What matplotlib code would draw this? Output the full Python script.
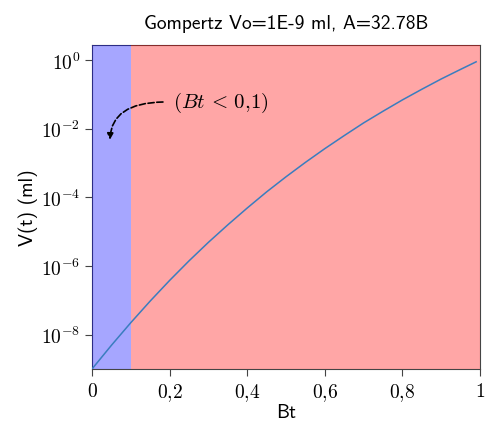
import numpy as np
import matplotlib.pyplot as plt

plt.rcParams['mathtext.fontset'] = 'cm'

# valores (Bt, log10 V)
bt = [0.0, 0.05, 0.1, 0.15, 0.2, 0.25, 0.3, 0.35, 0.4, 0.45, 0.5, 0.55,
      0.6, 0.65, 0.7, 0.75, 0.8, 0.85, 0.9, 0.95, 0.99]
log_v = [-9.0, -8.31, -7.65, -7.02, -6.42, -5.85, -5.31, -4.80, -4.31, -3.84,
         -3.40, -2.98, -2.58, -2.20, -1.83, -1.49, -1.16, -0.85, -0.55, -0.27, -0.05]
xticks = [0, 0.2, 0.4, 0.6, 0.8, 1.0]
xticklabels = ['$0$', '$0{,}2$', '$0{,}4$', '$0{,}6$', '$0{,}8$', '$1$']
yticks = [1e-8, 1e-6, 1e-4, 1e-2, 1e0]
yticklabels = ['$10^{-8}$', '$10^{-6}$', '$10^{-4}$', '$10^{-2}$', '$10^{0}$']

v = 10.0 ** np.array(log_v)

fig = plt.figure(figsize=(4.86, 4.27), dpi=100)
ax = fig.add_axes([92 / 486, 57 / 427, 388 / 486, 324 / 427])

ax.plot(bt, v, color='#3a7dbf', lw=1.1, zorder=4)
ax.axvspan(0, 0.1, color='blue', alpha=0.35, lw=0, zorder=3)
ax.axvspan(0.1, 1.0, color='red', alpha=0.35, lw=0, zorder=3)

ax.set_yscale('log')
ax.set_xlim(0, 1)
ax.set_ylim(1e-9, 10 ** 0.44)
ax.set_yticks(yticks)
ax.set_yticklabels(yticklabels)
ax.yaxis.set_minor_locator(plt.NullLocator())
ax.set_xticks(xticks)
ax.set_xticklabels(xticklabels)
ax.tick_params(labelsize=14, direction='out', length=5, color='#444444')
for s in ax.spines.values():
    s.set_color('#444444')
    s.set_zorder(2)

ax.set_title('Gompertz Vo=1E-9 ml, A=32.78B', family='cmss10', fontsize=14, pad=12)
ax.set_xlabel('Bt', family='cmss10', fontsize=14, labelpad=0)
ax.set_ylabel('V(t) (ml)', family='cmss10', fontsize=14, labelpad=2)

ax.text(0.21, 10 ** -1.22, r'$(Bt\,<\,0{,}1)$', fontsize=15, va='center', ha='left', zorder=5)
ax.annotate('', xy=(0.046, 10 ** -2.4), xytext=(0.19, 10 ** -1.22),
            arrowprops=dict(arrowstyle='-|>', color='black', lw=1.2, ls='--',
                            mutation_scale=9,
                            connectionstyle='angle3,angleA=0,angleB=90'),
            zorder=5)

fig.savefig('out.png', dpi=100)
